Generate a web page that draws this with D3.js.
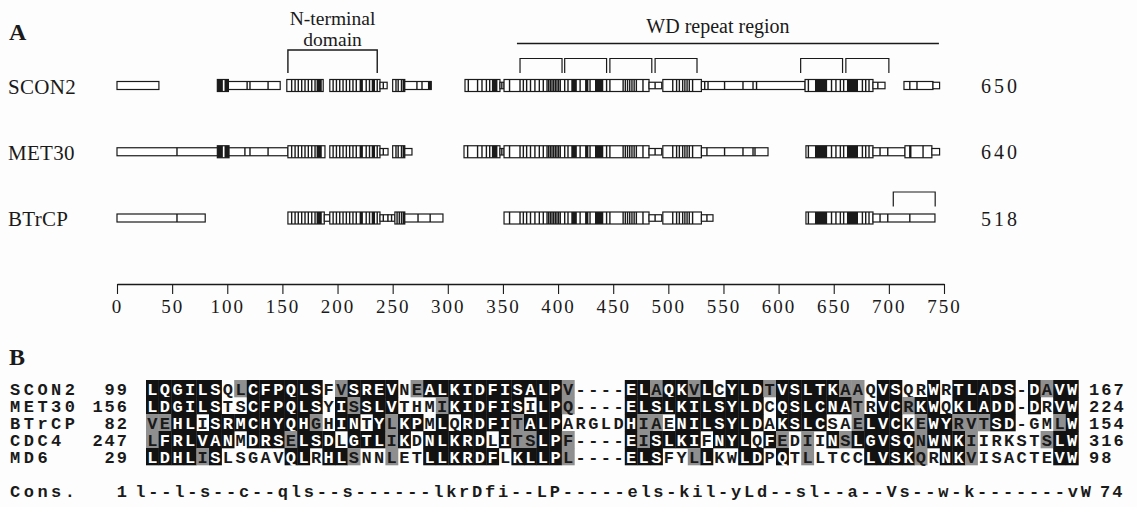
<!DOCTYPE html>
<html><head><meta charset="utf-8">
<script src="https://cdn.jsdelivr.net/npm/d3@7"></script>
<style>body{margin:0;background:#fff}</style>
</head><body><svg id="c" width="1137" height="507"></svg>
<script>
// ---------------- DATA (panel A) ----------------
const proteins = ["SCON2", "MET30", "BTrCP"];
const lengths = [650, 640, 518];
const tickValues = [0, 50, 100, 150, 200, 250, 300, 350, 400, 450, 500, 550, 600, 650, 700, 750];

// blocks: [start, end, size]  L = large striped, M = medium open, S = small
const scon2Blocks = [[0,38,"M"],[91,101,"L"],[101,148,"M"],[154,187,"L"],[193,238.5,"L"],[238.5,245,"S"],
  [250,261,"L"],[261,285,"M"],[315.6,347.3,"L"],[347.3,351,"S"],[351,482.5,"L"],[482.5,494,"S"],
  [495,530,"L"],[530,624,"M"],[624,685.6,"L"],[685.6,696.5,"S"],[713.7,740,"M"],[740,746,"S"]];
const met30Blocks = [[0,91.6,"M"],[91,101.6,"L"],[101.6,155,"M"],[155,188.6,"L"],[193,238.5,"L"],[238.5,245.8,"S"],
  [250,261,"L"],[261,267.5,"S"],[314.7,347.3,"L"],[347.3,351,"S"],[351,482.5,"L"],[482.5,494,"S"],
  [495,530,"L"],[530,590.4,"M"],[624.8,685.6,"L"],[685.6,714.6,"M"],[714.6,739,"L"],[739,746,"S"]];
const btrcpBlocks = [[0,80,"M"],[155,188,"L"],[188,193,"S"],[193,238.5,"L"],[238.5,245.8,"S"],[245.8,252,"S"],
  [252,261,"L"],[261,295.6,"M"],[351,482.5,"L"],[482.5,494,"S"],[495,530,"L"],[530,540.5,"S"],
  [624.8,685.6,"L"],[685.6,741.8,"M"]];

// thin vertical lines inside blocks (positions)
const scon2Lines = [118,120.6,137, 158.4,161.5,164.4,167.5,170.5,173.5,176.6,179.6, 196,199,202,205,208,211,214,217,226,229,236,
  241.5, 253,255,258, 272,276.6, 318.6,327,331,335,338, 349, 356,365.5,368.5,371.5,375,379,383,386.6,390,391.5,393,394.5,396,397.5,399,400.5,402,406,409,420,429,444,447,
  459,461,463,465,467,469,471,477, 488, 504,507.5,510,513,515,517,519,522, 533,536,551,567.7,576.8,580, 627,648,652,656,659,676,679,682, 690, 719,725.5];
const met30Lines = [54.4,116,120.6,137, 158.4,161.5,164.4,167.5,170.5,173.5,176.6,179.6, 196,199,202,205,208,211,214,217,226,229,236,
  241.5, 253,255,258, 318,327,331,335,338, 349, 356,365.5,368.5,371.5,375,379,383,386.6,390,391.5,393,394.5,396,397.5,399,400.5,402,406,409,420,429,444,447,
  459,461,463,465,467,469,471,477, 488, 504,507.5,510,513,515,517,519,522, 535,551,567.7,576.8,578.6, 627,648,652,656,659,676,679,682, 692,699, 719,731];
const btrcpLines = [54.4, 158.4,161.5,164.4,167.5,170.5,173.5,176.6,179.6, 196,199,202,205,208,211,214,217,226,229,236,
  241.5, 249, 254,256,258, 273,284, 356,365.5,368.5,371.5,375,379,383,386.6,390,391.5,393,394.5,396,397.5,399,400.5,402,406,409,420,429,444,447,
  459,461,463,465,467,469,471,477, 488, 504,507.5,510,513,515,517,519,522, 535, 627,648,652,656,659,676,679,682, 692,699,719];

// black bands [start, end]
const scon2Dark = [[91,96],[97.5,101],[181,185.7],[220,223],[231,234],[259,261],[282,285],[340,345],[412,417],[424.5,427.5],[433.5,441],[633,644],[662,672]];
const met30Dark = [[91,96],[97.5,101.6],[181,185.7],[220,223],[231,234],[259,261],[340,345],[412,417],[424.5,427.5],[433.5,441],[633,644],[662,672],[719,720.5]];
const btrcpDark = [[181,185.7],[220,223],[231,234],[259,261],[412,417],[424.5,427.5],[433.5,441],[633,644],[662,672]];

// annotations
const nTermBracket = [155, 236];
const wdRegion = [362.7, 745.4];
const wdBrackets = [[365.5,403.6],[406,444],[447,485],[488,526],[620,658],[661,700]];
const btrcpBracket = [704, 742];

// ---------------- DATA (panel B) ----------------
const seqNames = ["SCON2", "MET30", "BTrCP", "CDC4", "MD6"];
const seqStart = [99, 156, 82, 247, 29];
const seqEnd = [167, 224, 154, 316, 98];
const sequences = [
  "LQGILSQLCFPQLSFVSREVNEALKIDFISALPV----ELAQKVLCYLDTVSLTKAAQVSQRWRTLADS-DAVW",
  "LDGILSTSCFPQLSYISSLVTHMIKIDFISILPQ----ELSLKILSYLDCQSLCNATRVCRKWQKLADD-DRVW",
  "VEHLISRMCHYQHGHINTYLKPMLQRDFITALPARGLDHIAENILSYLDAKSLCSAELVCKEWYRVTSD-GMLW",
  "LFRLVANMDRSELSDLGTLIKDNLKRDLITSLPF----EISLKIFNYLQFEDIINSLGVSQNWNKIIRKSTSLW",
  "LDHLISLSGAVQLRHLSNNLETLLKRDFLKLLPL----ELSFYLLKWLDPQTLLTCCLVSKQRNKVISACTEVW"
];
// shading: k = black, g = grey, . = none
const shading = [
  "kkkkkk.gkk" + "kkkk.gkkkk" + ".gkkkkkkkk" + "kkkg....kk" + "gkkgk.kkkg" + "kkkkkgg.kk" + "..k.kkkkk." + "kgkk",
  "kkkkkk..kk" + "kkkk.kgkkk" + "...gkkkkkk" + ".kkg....kk" + "kkkkkkkkk." + "kkkkkkg.kk" + "gkk.kkkkk." + "k.kk",
  "ggkk.kkkkk" + "kkkg.kk.kg" + "kk.k.kkkkg" + "kkk.....kg" + "g.kkkkkkk." + "kkkk..gkkk" + ".gkkgggkk." + "..gk",
  "gkkkkkk.kk" + "kgkkk.kkkg" + "k.kkkkk.kg" + "gkkg....kg" + "kkkk.kkk.k" + "g.g.kgkkkk" + "kgkkkg...." + ".gkk",
  "kkkkgk...." + ".kk.kkg..g" + "..kkkkkk.k" + "kkkg....kk" + "k..gk..kk." + "k.g....kkk" + "kg.kkg...." + "..kk"
];
const consLabel = "Cons.";
const consStart = 1;
const consEnd = 74;
const consensus = "l--l-s--c--qls--s------lkrDfi--LP-----els-kil-yLd--sl--a--Vs--w-k-------vW";

// ---------------- DRAW ----------------
const svg = d3.select("#c");
svg.append("rect").attr("width", 1137).attr("height", 507).attr("fill", "#fdfdfd");
const serif = "'Liberation Serif', 'Times New Roman', serif";
const mono = "'Liberation Mono', 'DejaVu Sans Mono', monospace";
const ink = "#1a1a1a";

const x = d3.scaleLinear().domain([0, 750]).range([117, 944]);
const rowY = d3.scalePoint().domain(proteins).range([85.5, 218]);
const sizeH = {L: 12, M: 8, S: 6.5};

svg.append("text").attr("x", 9).attr("y", 40).text("A")
  .attr("font-family", serif).attr("font-weight", "bold").attr("font-size", 24).attr("fill", ink);

const blockSets = [scon2Blocks, met30Blocks, btrcpBlocks];
const lineSets = [scon2Lines, met30Lines, btrcpLines];
const darkSets = [scon2Dark, met30Dark, btrcpDark];

proteins.forEach((p, i) => {
  const cy = rowY(p);
  const g = svg.append("g");
  const blocks = blockSets[i];
  const hAt = pos => {
    const b = blocks.find(d => pos >= d[0] && pos <= d[1]);
    return b ? sizeH[b[2]] : 8;
  };
  g.selectAll("rect.blk").data(blocks).join("rect").attr("class", "blk")
    .attr("x", d => x(d[0])).attr("width", d => x(d[1]) - x(d[0]))
    .attr("y", d => cy - sizeH[d[2]] / 2).attr("height", d => sizeH[d[2]])
    .attr("fill", "#fff").attr("stroke", ink).attr("stroke-width", 1.2);
  g.selectAll("rect.dk").data(darkSets[i]).join("rect").attr("class", "dk")
    .attr("x", d => x(d[0])).attr("width", d => x(d[1]) - x(d[0]))
    .attr("y", d => cy - hAt((d[0] + d[1]) / 2) / 2).attr("height", d => hAt((d[0] + d[1]) / 2))
    .attr("fill", ink);
  g.selectAll("line.ln").data(lineSets[i]).join("line").attr("class", "ln")
    .attr("x1", d => x(d)).attr("x2", d => x(d))
    .attr("y1", d => cy - hAt(d) / 2).attr("y2", d => cy + hAt(d) / 2)
    .attr("stroke", ink).attr("stroke-width", 1.4);
  svg.append("text").attr("x", 8).attr("y", cy + 8).text(p)
    .attr("font-family", serif).attr("font-size", 21).attr("letter-spacing", 0.3).attr("fill", ink);
  svg.append("text").attr("x", 981).attr("y", cy + 7.5).text(lengths[i])
    .attr("font-family", serif).attr("font-size", 20).attr("letter-spacing", 3).attr("fill", ink);
});

// annotations
const bracket = (a, b, top, bottom) => `M${x(a)},${bottom}V${top}H${x(b)}V${bottom}`;
svg.append("path").attr("d", bracket(nTermBracket[0], nTermBracket[1], 50, 73))
  .attr("fill", "none").attr("stroke", ink).attr("stroke-width", 1.4);
svg.append("text").attr("x", x((nTermBracket[0] + nTermBracket[1]) / 2)).attr("y", 25).attr("text-anchor", "middle")
  .text("N-terminal").attr("font-family", serif).attr("font-size", 19.5).attr("fill", ink);
svg.append("text").attr("x", x((nTermBracket[0] + nTermBracket[1]) / 2)).attr("y", 46).attr("text-anchor", "middle")
  .text("domain").attr("font-family", serif).attr("font-size", 19.5).attr("fill", ink);
svg.append("line").attr("x1", x(wdRegion[0])).attr("x2", x(wdRegion[1])).attr("y1", 43.5).attr("y2", 43.5)
  .attr("stroke", ink).attr("stroke-width", 1.6);
svg.append("text").attr("x", 718).attr("y", 33).attr("text-anchor", "middle")
  .text("WD repeat region").attr("font-family", serif).attr("font-size", 20).attr("fill", ink);
svg.selectAll("path.wdb").data(wdBrackets).join("path").attr("class", "wdb")
  .attr("d", d => bracket(d[0], d[1], 58.5, 73)).attr("fill", "none").attr("stroke", ink).attr("stroke-width", 1.2);
svg.append("path").attr("d", bracket(btrcpBracket[0], btrcpBracket[1], 192, 206.5))
  .attr("fill", "none").attr("stroke", ink).attr("stroke-width", 1.2);

// axis
const axisG = svg.append("g").attr("transform", "translate(0,284)")
  .call(d3.axisBottom(x).tickValues(tickValues).tickSize(10).tickSizeOuter(0).tickPadding(6));
axisG.select(".domain").attr("stroke", ink).attr("stroke-width", 1.4);
axisG.selectAll(".tick line").attr("stroke", ink).attr("stroke-width", 1.1);
axisG.selectAll(".tick text").attr("font-family", serif).attr("font-size", 19).attr("fill", ink).attr("letter-spacing", 2);

// ---------------- panel B ----------------
svg.append("text").attr("x", 9).attr("y", 365).text("B")
  .attr("font-family", serif).attr("font-weight", "bold").attr("font-size", 24).attr("fill", ink);

const nCols = sequences[0].length;
const colX = d3.scaleBand().domain(d3.range(nCols)).range([146, 146 + nCols * 12.6]);
const rowB = d3.scaleBand().domain(seqNames).range([380, 380 + 17 * seqNames.length]);
const shadeFill = {k: "#121212", g: "#8f8f8f", ".": "none"};

seqNames.forEach((name, r) => {
  const y0 = rowB(name), h = rowB.bandwidth();
  const cells = sequences[r].split("").map((ch, c) => ({ch, c, s: shading[r][c] || "."}));
  const g = svg.append("g");
  g.selectAll("rect").data(cells.filter(d => d.s !== ".")).join("rect")
    .attr("x", d => colX(d.c)).attr("y", y0).attr("width", colX.bandwidth() + 0.3).attr("height", h + 0.3)
    .attr("fill", d => shadeFill[d.s]);
  g.selectAll("text").data(cells).join("text")
    .attr("x", d => colX(d.c) + colX.bandwidth() / 2).attr("y", y0 + h / 2 + 6)
    .attr("text-anchor", "middle").text(d => d.ch)
    .attr("font-family", mono).attr("font-weight", "bold").attr("font-size", 17)
    .attr("fill", d => d.s === "k" ? "#fff" : ink);
  svg.append("text").attr("x", 10).attr("y", y0 + h / 2 + 6).text(name)
    .attr("font-family", mono).attr("font-weight", "bold").attr("font-size", 17).attr("letter-spacing", 3.5).attr("fill", ink);
  svg.append("text").attr("x", 129).attr("y", y0 + h / 2 + 6).attr("text-anchor", "end").text(seqStart[r])
    .attr("font-family", mono).attr("font-weight", "bold").attr("font-size", 17).attr("letter-spacing", 2).attr("fill", ink);
  svg.append("text").attr("x", 1089).attr("y", y0 + h / 2 + 6).text(seqEnd[r])
    .attr("font-family", mono).attr("font-weight", "bold").attr("font-size", 17).attr("letter-spacing", 2).attr("fill", ink);
});

// consensus (set in its own slightly wider pitch, as in the original)
const consY = 497;
const consX = d3.scaleBand().domain(d3.range(nCols)).range([134, 134 + nCols * 12.95]);
svg.append("text").attr("x", 10).attr("y", consY).text(consLabel)
  .attr("font-family", mono).attr("font-weight", "bold").attr("font-size", 17).attr("letter-spacing", 3.5).attr("fill", ink);
svg.append("text").attr("x", 127).attr("y", consY).attr("text-anchor", "end").text(consStart)
  .attr("font-family", mono).attr("font-weight", "bold").attr("font-size", 17).attr("fill", ink);
svg.append("g").selectAll("text").data(consensus.split("")).join("text")
  .attr("x", (d, i) => consX(i) + consX.bandwidth() / 2).attr("y", consY).attr("text-anchor", "middle").text(d => d)
  .attr("font-family", mono).attr("font-weight", "bold").attr("font-size", 17).attr("fill", ink);
svg.append("text").attr("x", 1100).attr("y", consY).text(consEnd)
  .attr("font-family", mono).attr("font-weight", "bold").attr("font-size", 17).attr("letter-spacing", 2).attr("fill", ink);
</script></body></html>
